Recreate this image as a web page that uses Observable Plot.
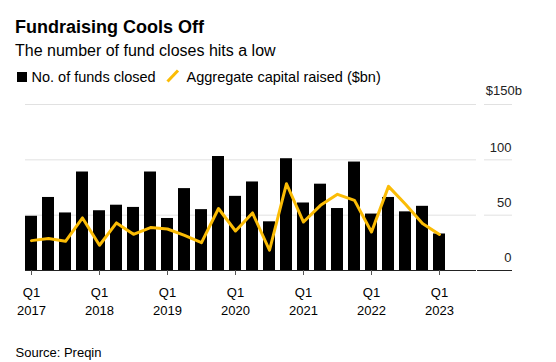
<!DOCTYPE html>
<html><head><meta charset="utf-8">
<script src="https://cdn.jsdelivr.net/npm/d3@7"></script>
<script src="https://cdn.jsdelivr.net/npm/@observablehq/plot@0.6"></script>
<style>
body{margin:0;background:#fff;font-family:"Liberation Sans",Arial,sans-serif;color:#000;}
#wrap{position:relative;width:556px;height:362px;overflow:hidden;}
.t{position:absolute;white-space:nowrap;line-height:1;}
#chart{position:absolute;left:0;top:80px;}
</style></head><body><div id="wrap">
<div class="t" style="left:15px;top:17.8px;font-size:18px;font-weight:bold">Fundraising Cools Off</div>
<div class="t" style="left:15px;top:43.3px;font-size:16px">The number of fund closes hits a low</div>
<div class="t" style="left:17px;top:72px;width:10px;height:10px;background:#000"></div>
<div class="t" style="left:31.5px;top:70.4px;font-size:14.5px">No. of funds closed</div>
<svg class="t" style="left:165px;top:68px" width="16" height="16"><line x1="2.5" y1="13.5" x2="13" y2="2.5" stroke="#fbbc05" stroke-width="3"/></svg>
<div class="t" style="left:186.5px;top:70.4px;font-size:14.5px">Aggregate capital raised ($bn)</div>
<div id="chart"></div>
<div class="t" style="left:15.5px;top:345.5px;font-size:13px">Source: Preqin</div>
</div>
<script>
const quarters = ["Q1 2017","Q2 2017","Q3 2017","Q4 2017","Q1 2018","Q2 2018","Q3 2018","Q4 2018","Q1 2019","Q2 2019","Q3 2019","Q4 2019","Q1 2020","Q2 2020","Q3 2020","Q4 2020","Q1 2021","Q2 2021","Q3 2021","Q4 2021","Q1 2022","Q2 2022","Q3 2022","Q4 2022","Q1 2023"];
const fundsClosed = [49,66,52,89,54,59,57,89,47,74,55,103,67,80,44,101,61,78,56,98,51,66,53,58,33];
const capitalRaised = [27,29,26.4,47.5,22.8,43,32.7,38.8,37.5,31.8,25.2,56,35.7,52,18.3,78.4,43.8,58.9,68.8,63.4,34.8,76,59.8,42.4,32.5];
const xTicks = ["Q1 2017","Q1 2018","Q1 2019","Q1 2020","Q1 2021","Q1 2022","Q1 2023"];
const gridValues = [50,100,150];

const data = quarters.map((q,i)=>({q, funds: fundsClosed[i], capital: capitalRaised[i]}));
const font = "Liberation Sans, Arial, sans-serif";

const chart = Plot.plot({
  width:556, height:240, marginLeft:25, marginRight:80, marginTop:24, marginBottom:50,
  style:{fontFamily:font, fontSize:"13px", color:"#000", background:"transparent", overflow:"visible"},
  x:{type:"band", domain:quarters, paddingInner:0.315, paddingOuter:0, align:0, insetRight:7.3, label:null},
  y:{domain:[0,150], label:null},
  marks:[
    Plot.ruleY(gridValues, {stroke:"#e1e1e1", strokeWidth:1}),
    Plot.axisY(gridValues, {anchor:"right", tickSize:28, dx:7, stroke:"#e1e1e1", tickFormat:()=>"", label:null}),
    Plot.barY(data, {x:"q", y:"funds", fill:"#000"}),
    Plot.ruleY([0], {stroke:"#222"}),
    Plot.axisY([0], {anchor:"right", tickSize:35, stroke:"#222", tickFormat:()=>"", label:null}),
    Plot.lineY(data, {x:"q", y:"capital", stroke:"#fbbc05", strokeWidth:3, strokeLinejoin:"round"}),
    Plot.axisX(xTicks, {anchor:"bottom", tickSize:5, tickPadding:9.2, stroke:"#555", fill:"#000", lineHeight:1.36,
      tickFormat: d => d.replace(" ", "\n"), label:null}),
    Plot.axisY([0,50,100], {anchor:"right", tickSize:0, tickPadding:0, textAnchor:"end", dx:35, dy:-12.5, fill:"#222", label:null}),
    Plot.axisY([150], {anchor:"right", tickSize:0, tickPadding:0, textAnchor:"end", dx:45.5, dy:-13.5, fill:"#222", tickFormat: d => `$${d}b`, label:null})
  ]
});
document.getElementById("chart").appendChild(chart);
</script>
</body></html>
